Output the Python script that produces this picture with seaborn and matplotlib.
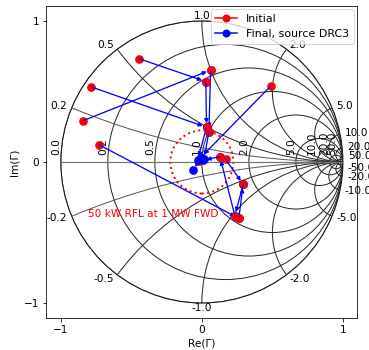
import numpy as np
import pandas as pd
import matplotlib
matplotlib.use("Agg")
import matplotlib.pyplot as plt
from matplotlib.patches import Circle
from matplotlib.lines import Line2D
import seaborn as sns

# ---------------- data ----------------
# tuning steps: initial reflection coefficient -> final reflection coefficient
init_re = [-0.447, -0.842, -0.789, -0.730, 0.062, 0.028, 0.262, 0.168, 0.293, 0.234, -0.020, 0.489, 0.033, 0.050, 0.128]
init_im = [0.733, 0.293, 0.534, 0.123, 0.652, 0.570, -0.400, 0.019, -0.158, -0.381, 0.005, 0.539, 0.246, 0.215, 0.038]
final_re = [0.028, 0.062, 0.033, 0.262, 0.050, 0.033, 0.293, 0.293, 0.234, 0.128, -0.066, -0.005, -0.030, 0.015, 0.005]
final_im = [0.570, 0.652, 0.246, -0.400, 0.215, 0.246, -0.158, -0.158, -0.381, 0.038, -0.057, 0.035, 0.012, 0.020, 0.012]

r_values = [0.0, 0.2, 0.5, 1.0, 2.0, 5.0, 10.0, 20.0, 50.0]
x_values = [0.2, 0.5, 1.0, 2.0, 5.0, 10.0, 20.0, 50.0, -0.2, -0.5, -1.0, -2.0, -5.0, -10.0, -20.0, -50.0]
rfl_power_kw = 50.0
fwd_power_kw = 1000.0
circle_label = "50 kW RFL at 1 MW FWD"
legend_labels = ["Initial", "Final, source DRC3"]
ticks = [-1, 0, 1]

FS = 10.5

# ---------------- figure ----------------
W, H, DPI = 369, 350, 72
fig = plt.figure(figsize=(W / DPI, H / DPI), dpi=DPI)
ax = fig.add_axes([46 / W, 32 / H, 311 / W, 312 / H])
ax.set_xlim(-1.105, 1.10)
ax.set_ylim(-1.105, 1.105)
ax.set_aspect("equal", adjustable="box")

clip = Circle((0, 0), 1.0, transform=ax.transData, fc="none", ec="k", lw=1.0)
ax.add_patch(clip)

# constant resistance circles
for r in r_values:
    c = Circle((r / (1 + r), 0), 1 / (1 + r), fc="none", ec="0.15", lw=1.0)
    ax.add_patch(c)
    c.set_clip_path(clip)
    rho = (r - 1) / (r + 1)
    ax.text(rho, 0.05, f"{r:.1f}", rotation=90, ha="right", va="bottom", fontsize=FS)

# constant reactance arcs
for x in x_values:
    col = "0.35" if abs(x) == 0.2 else "0.15"
    c = Circle((1, 1 / x), 1 / abs(x), fc="none", ec=col, lw=1.0)
    ax.add_patch(c)
    c.set_clip_path(clip)
    g = (x * x - 1) / (x * x + 1) + 1j * 2 * x / (x * x + 1)
    g *= 1.035
    if abs(x) < 1:
        ha = "right"
    elif abs(x) == 1:
        ha = "center"
    else:
        ha = "left"
    ax.text(g.real, g.imag, f"{x:.1f}", ha=ha, va="center", fontsize=FS)

hl = ax.axhline(0, color="0.45", lw=1.2)
hl.set_clip_path(clip)

# reflected power circle
gmag = np.sqrt(rfl_power_kw / fwd_power_kw)
ax.add_patch(Circle((0, 0), gmag, fc="none", ec="red", lw=2, ls=":"))
ax.text(-0.81, -0.37, circle_label, color="red", fontsize=FS, ha="left", va="center")

# steps
for i in range(len(init_re)):
    z = 10 + 3 * i
    sns.scatterplot(x=[init_re[i]], y=[init_im[i]], ax=ax, color="red", s=75,
                    edgecolor="red", linewidth=0, zorder=z, legend=False)
    ax.annotate("", xy=(final_re[i], final_im[i]), xytext=(init_re[i], init_im[i]),
                arrowprops=dict(arrowstyle="-|>", color="blue", lw=1.3, shrinkA=0,
                                shrinkB=4, mutation_scale=8), zorder=z + 1)
    sns.scatterplot(x=[final_re[i]], y=[final_im[i]], ax=ax, color="blue", s=75,
                    edgecolor="blue", linewidth=0, zorder=z + 2, legend=False)

handles = [Line2D([], [], color="red", marker="o", ms=7, lw=1.5),
           Line2D([], [], color="blue", marker="o", ms=7, lw=1.5)]
leg = ax.legend(handles, legend_labels, loc="upper right", fontsize=FS + 0.5,
                borderaxespad=0.3, handlelength=2.0)
leg.set_zorder(100)

ax.set_xticks(ticks)
ax.set_yticks(ticks)
ax.set_xlabel("Re(Γ)", fontsize=FS)
ax.set_ylabel("Im(Γ)", fontsize=FS)
ax.tick_params(labelsize=FS)

fig.savefig("out.png", dpi=DPI)
